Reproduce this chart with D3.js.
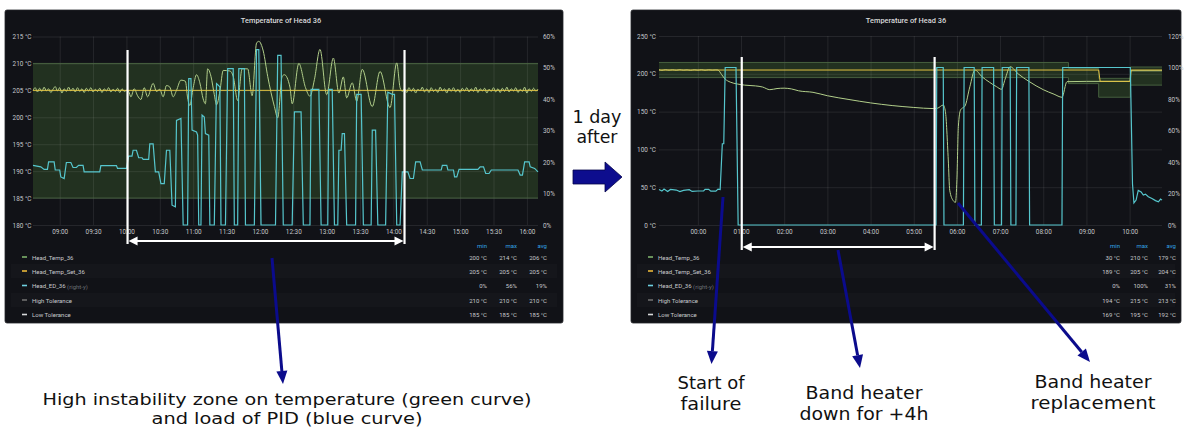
<!DOCTYPE html>
<html><head><meta charset="utf-8">
<script src="https://cdn.jsdelivr.net/npm/d3@7"></script>
<style>
html,body{margin:0;padding:0;background:#fff;}
svg{display:block;}
</style></head><body>
<svg id="c" width="1184" height="429"></svg>
<script>
// ================= DATA =================
const chartTitle = "Temperature of Head 36";
const legendNames = ["Head_Temp_36","Head_Temp_Set_36","Head_ED_36","High Tolerance","Low Tolerance"];
const legendCols = ["min","max","avg"];

// ---- left panel (before) ----
const leftTimeTicks = ["09:00","09:30","10:00","10:30","11:00","11:30","12:00","12:30","13:00","13:30","14:00","14:30","15:00","15:30","16:00"];
const leftTempTicks = [180,185,190,195,200,205,210,215];
const leftPctTicks = [0,10,20,30,40,50,60];
const leftLegendMin = ["200 °C","205 °C","0%","210 °C","185 °C"];
const leftLegendMax = ["214 °C","205 °C","56%","210 °C","185 °C"];
const leftLegendAvg = ["206 °C","205 °C","19%","210 °C","185 °C"];

const leftTemp = [
["08:36",205.0],["08:38",205.5],["08:40",204.7],["08:42",205.4],["08:44",204.8],["08:46",205.6],["08:48",204.9],["08:50",205.3],["08:52",204.6],["08:54",205.2],["08:56",205.7],["08:58",204.9],["09:00",205.5],["09:02",204.5],["09:04",205.3],["09:06",204.8],["09:08",205.6],["09:10",204.9],["09:12",205.4],["09:14",204.7],["09:16",205.5],["09:18",204.8],["09:20",205.3],["09:22",204.6],["09:24",205.4],["09:26",204.9],["09:28",205.5],["09:30",204.7],["09:32",205.2],["09:34",204.8],["09:36",205.4],["09:38",204.6],["09:40",205.3],["09:42",204.9],["09:44",205.5],["09:46",204.7],["09:48",205.2],["09:50",204.8],["09:52",205.4],["09:54",204.6],["09:56",205.3],["09:58",204.8],["10:00",205.0],
["10:02",204.8],["10:04",203.8],["10:07",205.3],["10:10",204.0],["10:13",203.3],["10:16",205.5],["10:19",203.8],["10:24",206.3],["10:27",204.8],["10:30",205.2],["10:33",203.8],["10:36",205.9],["10:39",205.6],["10:42",203.8],["10:45",205.0],["10:49",206.9],["10:53",206.7],["10:55",203.6],["10:57",202.2],["11:00",205.5],["11:03",207.9],["11:06",206.4],["11:09",203.4],["11:11",202.5],["11:13",209.0],["11:16",207.6],["11:19",204.2],["11:21",202.3],["11:24",204.8],["11:27",208.7],["11:33",208.6],["11:36",207.6],["11:40",203.1],["11:44",209.0],["11:49",209.0],["11:53",204.0],["11:57",213.8],["11:59",214.1],["12:03",212.3],["12:07",207.6],["12:13",202.0],["12:16",199.9],["12:20",207.6],["12:22",207.9],["12:27",205.6],["12:29",202.5],["12:35",210.0],["12:41",205.5],["12:45",203.9],["12:49",207.0],["12:54",212.6],["13:00",204.2],["13:06",211.0],["13:11",204.5],["13:15",207.5],["13:18",203.6],["13:23",206.4],["13:27",203.0],["13:32",208.9],["13:41",202.0],["13:48",208.5],["13:57",201.8],["14:03",210.1],["14:06",205.5],["14:08",204.8],
["14:10",205.3],["14:12",204.6],["14:14",205.5],["14:16",204.8],["14:18",205.4],["14:20",204.5],["14:22",205.2],["14:24",204.9],["14:26",205.6],["14:28",204.7],["14:30",205.3],["14:32",204.6],["14:34",205.5],["14:36",204.8],["14:38",205.2],["14:40",204.6],["14:42",205.6],["14:44",204.9],["14:46",205.3],["14:48",204.5],["14:50",205.4],["14:52",204.8],["14:54",205.5],["14:56",204.7],["14:58",205.2],["15:00",204.6],["15:02",205.4],["15:04",204.9],["15:06",205.5],["15:08",204.7],["15:10",205.3],["15:12",204.8],["15:14",205.6],["15:16",204.6],["15:18",205.3],["15:20",204.9],["15:22",205.4],["15:24",204.5],["15:26",205.2],["15:28",204.8],["15:30",205.5],["15:32",204.7],["15:34",205.3],["15:36",204.6],["15:38",205.4],["15:40",204.8],["15:42",205.6],["15:44",204.7],["15:46",205.3],["15:48",204.9],["15:50",205.5],["15:52",204.6],["15:54",205.2],["15:56",204.8],["15:58",205.6],["16:00",204.5],["16:02",205.3],["16:04",204.8],["16:06",205.4],["16:08",204.9],["16:10",205.2]
];
const leftSet = [["08:36",205],["16:10",205]];
const leftHigh = [["08:36",210],["16:10",210]];
const leftLow = [["08:36",185],["16:10",185]];
const leftED = [
["08:36",19.0],["08:43",18.5],["08:46",17.7],["08:49",17.7],["08:50",20.1],["08:55",20.1],["08:56",17.5],["09:00",17.5],["09:01",15.3],["09:04",14.8],["09:06",19.9],["09:10",19.9],["09:12",18.3],["09:15",18.3],["09:17",19.0],["09:21",19.0],["09:22",16.9],["09:36",16.9],["09:37",18.9],["09:51",18.9],["09:52",18.0],["10:00",18.0],
["10:02",21.9],["10:05",21.9],["10:06",23.8],["10:09",23.8],["10:11",21.4],["10:14",21.4],["10:15",20.9],["10:20",20.9],["10:21",25.8],["10:24",25.8],["10:26",16.9],["10:29",16.9],["10:31",13.2],["10:34",13.2],["10:36",23.8],["10:39",23.8],["10:41",6.3],["10:44",5.8],["10:45",33.3],["10:49",33.9],["10:51",0],["10:55",0],["10:56",46.6],["10:58",46.6],["10:59",30.2],["11:03",29.6],["11:04",28.6],["11:05",0],["11:07",0],["11:08",35],["11:10",34.4],["11:11",29.1],["11:14",28.6],["11:15",0],["11:19",0],["11:21",45],["11:24",44],["11:25",0],["11:29",0],["11:31",49.8],["11:36",49.8],["11:37",0],["11:40",0],["11:41",49.8],["11:46",49.8],["11:47",0],["11:55",0],["11:57",55.8],["11:59",55.8],["12:01",0],["12:14",0],["12:16",54],["12:19",54],["12:21",0],["12:29",0],["12:31",36],["12:37",36],["12:39",0],["12:45",0],["12:46",43.2],["12:53",43.2],["12:55",0],["13:01",0],["13:02",43.2],["13:05",43.2],["13:07",0],["13:10",0],["13:11",23.8],["13:13",23.8],["13:14",29.1],["13:16",29.1],["13:18",0],["13:26",0],["13:27",41.6],["13:31",41.6],["13:33",0],["13:40",0],["13:41",30.2],["13:44",30.2],["13:46",0],["13:53",0],["13:55",42.3],["13:59",41.6],["14:01",41.6],["14:03",0],["14:06",0],
["14:08",16.9],["14:13",16.9],["14:15",14.8],["14:18",14.8],["14:20",20.1],["14:24",20.1],["14:26",17.5],["14:43",17.5],["14:44",19],["14:48",19],["14:49",17.5],["14:54",17.5],["14:55",15.3],["14:57",15.3],["14:59",17.7],["15:16",17.7],["15:18",18.5],["15:21",18.5],["15:23",16.4],["15:26",16.4],["15:28",17.5],["15:52",17.5],["15:54",15.9],["15:56",15.9],["15:58",20.1],["16:02",20.1],["16:03",18.5],["16:07",18],["16:10",16.9]
];

// ---- right panel (1 day after) ----
const rightTimeTicks = ["02 00:00","02 01:00","02 02:00","02 03:00","02 04:00","02 05:00","02 06:00","02 07:00","02 08:00","02 09:00","02 10:00"];
const rightTempTicks = [0,50,100,150,200,250];
const rightPctTicks = [0,20,40,60,80,100,120];
const rightLegendMin = ["30 °C","189 °C","0%","194 °C","169 °C"];
const rightLegendMax = ["210 °C","205 °C","100%","215 °C","195 °C"];
const rightLegendAvg = ["179 °C","204 °C","31%","213 °C","192 °C"];

const rightTemp = [
["01 23:06",205.3],["01 23:10",204.6],["01 23:15",205.4],["01 23:20",204.8],["01 23:25",205.3],["01 23:30",204.7],["01 23:35",205.4],["01 23:40",204.8],["01 23:45",205.2],["01 23:50",204.6],["01 23:55",205.3],["02 00:00",204.8],["02 00:05",205.4],["02 00:10",204.7],["02 00:15",205.3],["02 00:20",204.9],["02 00:25",205.2],["02 00:28",205.0],
["02 00:33",199],["02 00:38",193],["02 00:45",189],["02 00:55",186.5],["02 01:05",185],["02 01:20",184],["02 01:30",182.5],["02 01:40",179],["02 01:50",180.5],["02 02:00",181],["02 02:10",180],["02 02:20",177.5],["02 02:40",175.5],["02 03:00",171],["02 03:30",166],["02 04:00",161.5],["02 04:30",158],["02 05:00",155.5],["02 05:27",154],["02 05:33",154.5],["02 05:41",158.7],["02 05:44",150],["02 05:48",86],["02 05:50",46],["02 05:55",32],["02 05:58",30],["02 06:00",60],["02 06:02",130],["02 06:05",152],["02 06:08",155],["02 06:11",157],["02 06:18",183],["02 06:25",205],["02 06:35",196],["02 06:45",189],["02 06:55",183],["02 07:02",179.5],["02 07:07",193],["02 07:14",209.4],["02 07:25",200],["02 07:40",190],["02 08:00",179],["02 08:15",173],["02 08:26",169],["02 08:33",189.6],["02 09:00",190],["02 10:00",190],["02 10:02",204],["02 10:45",204]
];
const rightSet = [["01 23:06",205],["02 09:17",205],["02 09:19",190],["02 10:01",190],["02 10:02",205],["02 10:45",205]];
const rightHigh = [["01 23:06",215],["02 08:35",207],["02 09:17",194],["02 10:01",209],["02 10:45",209]];
const rightLow = [["01 23:06",195],["02 08:35",187],["02 09:17",169],["02 10:01",185],["02 10:45",185]];
const rightED = [
["01 23:06",22.5],["01 23:10",21.5],["01 23:13",22.8],["01 23:18",21.3],["01 23:22",22.6],["01 23:30",22.2],["01 23:35",21.2],["01 23:40",22.0],["01 23:48",22.4],["01 23:52",21.3],["02 00:00",21.6],["02 00:08",21.6],["02 00:10",22.6],["02 00:15",22.6],["02 00:18",21.5],["02 00:25",21.5],["02 00:28",22.8],["02 00:31",22.5],["02 00:34",51.6],["02 00:36",51.6],["02 00:38",100],["02 00:53",100],["02 00:56",0],
["02 05:31",0],["02 05:32",100],["02 05:41",100],["02 05:42",0],["02 06:09",0],["02 06:10",100],["02 06:24",100],["02 06:25",0],["02 06:34",0],["02 06:35",100],["02 06:51",100],["02 06:52",0],["02 07:02",0],["02 07:03",100],["02 07:14",100],["02 07:15",0],["02 07:22",0],["02 07:23",100],["02 07:40",100],["02 07:41",0],["02 08:26",0],["02 08:27",100],["02 10:01",100],
["02 10:04",26],["02 10:06",14],["02 10:09",15.8],["02 10:12",22],["02 10:16",21],["02 10:19",19],["02 10:22",19.6],["02 10:26",17.9],["02 10:31",16.8],["02 10:36",15.5],["02 10:40",14.7],["02 10:43",16.5],["02 10:45",15.8]
];

// annotation texts
const leftNote = ["High instability zone on temperature (green curve)","and load of PID (blue curve)"];
const middleNote = ["1 day","after"];
const noteStart = ["Start of","failure"];
const noteDown = ["Band heater","down for +4h"];
const noteRepl = ["Band heater","replacement"];

// ================= DRAWING =================
const svg = d3.select("#c");
svg.append("rect").attr("width",1184).attr("height",429).attr("fill","#ffffff");
const FONT = "Roboto, 'Noto Sans', sans-serif";
const C = {bg:"#111217", band:"#223120", bandEdge:"#4b6643", grid:"rgba(255,255,255,0.085)",
  temp:"#b2cf8a", set:"#e2c443", ed:"#56c6cd", tick:"#c3c6ca", head:"#33a2e5"};
const legendColors = [ "#7eb26d", "#eab839", "#6ed0e0", "#6f6f6f", "#d8d9da"];

function drawPanel(cfg){
  const g = svg.append("g");
  g.append("rect").attr("x",cfg.px).attr("y",cfg.py).attr("width",cfg.pw).attr("height",cfg.ph)
    .attr("rx",2).attr("fill",C.bg).attr("stroke","#24262b").attr("stroke-width",0.8);
  g.append("text").attr("x",cfg.titleX).attr("y",23).attr("text-anchor","middle")
    .attr("fill","#d8d9da").attr("font-size",7.4).attr("font-weight",500).attr("font-family",FONT).text(chartTitle);

  const parse = cfg.parse;
  const x = d3.scaleTime().domain(cfg.xDom.map(parse)).range([cfg.x0,cfg.x1]);
  const yL = d3.scaleLinear().domain(cfg.yLDom).range([cfg.yB,cfg.yT]);
  const yR = d3.scaleLinear().domain(cfg.yRDom).range([cfg.yB,cfg.yT]);
  const P = arr => arr.map(d => ({t:parse(d[0]), v:d[1]}));

  // band
  const hi = P(cfg.high), lo = P(cfg.low);
  const band = hi.map((d,i)=>({t:d.t,h:d.v,l:lo[i].v}));
  g.append("path").datum(band)
    .attr("d", d3.area().curve(d3.curveStepAfter).x(d=>x(d.t)).y0(d=>yL(d.l)).y1(d=>yL(d.h)))
    .attr("fill",C.band);

  // grid + x labels
  const gx = g.append("g").attr("transform",`translate(0,${cfg.yB})`)
    .call(d3.axisBottom(x).tickValues(cfg.xTicks.map(parse)).tickSize(-(cfg.yB-cfg.yT))
      .tickPadding(4.5).tickFormat(d3.timeFormat("%H:%M")));
  gx.select(".domain").remove();
  gx.selectAll("line").attr("stroke",C.grid);
  gx.selectAll("text").attr("fill",C.tick).attr("font-size",6.4).attr("font-family",FONT);

  const gy = g.append("g").attr("transform",`translate(${cfg.x0},0)`)
    .call(d3.axisLeft(yL).tickValues(cfg.yLTicks).tickSize(-(cfg.x1-cfg.x0)).tickPadding(cfg.yLPad)
      .tickFormat(d=>d+" °C"));
  gy.select(".domain").remove();
  gy.selectAll("line").attr("stroke",C.grid);
  gy.selectAll("text").attr("fill",C.tick).attr("font-size",6.4).attr("font-family",FONT);

  const gr = g.append("g").attr("transform",`translate(${cfg.x1},0)`)
    .call(d3.axisRight(yR).tickValues(cfg.yRTicks).tickSize(0).tickPadding(cfg.yRPad).tickFormat(d=>d+"%"));
  gr.select(".domain").remove();
  gr.selectAll("text").attr("fill",C.tick).attr("font-size",6.4).attr("font-family",FONT);

  // band edges
  const stepLine = d3.line().curve(d3.curveStepAfter).x(d=>x(d.t)).y(d=>yL(d.v));
  g.append("path").datum(hi).attr("d",stepLine).attr("fill","none").attr("stroke",C.bandEdge).attr("stroke-width",0.9);
  g.append("path").datum(lo).attr("d",stepLine).attr("fill","none").attr("stroke",C.bandEdge).attr("stroke-width",0.9);

  // series
  g.append("path").datum(P(cfg.temp))
    .attr("d", d3.line().curve(d3.curveMonotoneX).x(d=>x(d.t)).y(d=>yL(d.v)))
    .attr("fill","none").attr("stroke",C.temp).attr("stroke-width",1);
  g.append("path").datum(P(cfg.set))
    .attr("d", d3.line().x(d=>x(d.t)).y(d=>yL(d.v)))
    .attr("fill","none").attr("stroke",C.set).attr("stroke-width",1);
  g.append("path").datum(P(cfg.ed))
    .attr("d", d3.line().x(d=>x(d.t)).y(d=>yR(d.v)))
    .attr("fill","none").attr("stroke",C.ed).attr("stroke-width",1.2);

  // legend
  const rowsY = [257,271,285.5,300,314.5];
  rowsY.forEach((ry,i)=>{
    if(i%2===1) g.append("rect").attr("x",cfg.px+6).attr("y",ry-7).attr("width",cfg.pw-12).attr("height",14).attr("fill","rgba(255,255,255,0.018)");
  });
  legendCols.forEach((c,j)=>{
    g.append("text").attr("x",cfg.colX[j]).attr("y",245).attr("text-anchor","end").attr("dominant-baseline","central")
      .attr("fill",C.head).attr("font-size",6).attr("font-family",FONT).text(c);
  });
  legendNames.forEach((n,i)=>{
    const ry = rowsY[i];
    g.append("line").attr("x1",cfg.px+17).attr("x2",cfg.px+22).attr("y1",ry).attr("y2",ry)
      .attr("stroke",legendColors[i]).attr("stroke-width",1.6);
    const t = g.append("text").attr("x",cfg.px+27).attr("y",ry).attr("dominant-baseline","central")
      .attr("fill","#c7c9cc").attr("font-size",6).attr("font-family",FONT).text(n);
    if(i===2) t.append("tspan").attr("fill","#6b6e73").text(" (right-y)");
    [cfg.lmin,cfg.lmax,cfg.lavg].forEach((arr,j)=>{
      g.append("text").attr("x",cfg.colX[j]).attr("y",ry).attr("text-anchor","end").attr("dominant-baseline","central")
        .attr("fill","#c7c9cc").attr("font-size",6).attr("font-family",FONT).text(arr[i]);
    });
  });
  return {x,yL,yR};
}

const L = drawPanel({px:5,py:10,pw:558,ph:313,titleX:281,x0:33,x1:538,yT:36.5,yB:225,
  parse:d3.timeParse("%H:%M"), xDom:["08:36","16:10"], yLDom:[180,215], yRDom:[0,60],
  xTicks:leftTimeTicks, yLTicks:leftTempTicks, yRTicks:leftPctTicks, yLPad:1.5, yRPad:5,
  temp:leftTemp, set:leftSet, high:leftHigh, low:leftLow, ed:leftED,
  lmin:leftLegendMin, lmax:leftLegendMax, lavg:leftLegendAvg, colX:[487,517,547]});

const R = drawPanel({px:631,py:10,pw:550,ph:313,titleX:906,x0:659,x1:1162,yT:36,yB:225,
  parse:d3.timeParse("%d %H:%M"), xDom:["01 23:06","02 10:45"], yLDom:[0,250], yRDom:[0,120],
  xTicks:rightTimeTicks, yLTicks:rightTempTicks, yRTicks:rightPctTicks, yLPad:3, yRPad:6,
  temp:rightTemp, set:rightSet, high:rightHigh, low:rightLow, ed:rightED,
  lmin:rightLegendMin, lmax:rightLegendMax, lavg:rightLegendAvg, colX:[1120,1148,1176]});

// ---------- annotations ----------
const ann = svg.append("g");
function whiteBracket(xa, xb, yTop, yArrow){
  [xa,xb].forEach(xx=>ann.append("line").attr("x1",xx).attr("x2",xx).attr("y1",yTop).attr("y2",yArrow+3)
    .attr("stroke","#ffffff").attr("stroke-width",2.2));
  ann.append("line").attr("x1",xa+6).attr("x2",xb-6).attr("y1",yArrow).attr("y2",yArrow)
    .attr("stroke","#ffffff").attr("stroke-width",2);
  ann.append("path").attr("d",`M${xa+1},${yArrow} L${xa+10},${yArrow-4.5} L${xa+10},${yArrow+4.5} Z`).attr("fill","#fff");
  ann.append("path").attr("d",`M${xb-1},${yArrow} L${xb-10},${yArrow-4.5} L${xb-10},${yArrow+4.5} Z`).attr("fill","#fff");
}
const pL = d3.timeParse("%H:%M"), pR = d3.timeParse("%d %H:%M");
whiteBracket(L.x(pL("10:01")), L.x(pL("14:10")), 50, 241);
whiteBracket(R.x(pR("02 01:01")), R.x(pR("02 05:29")), 57, 247);

function navyArrow(x1,y1,x2,y2){
  const a = Math.atan2(y2-y1,x2-x1), Lh=13, W=5.5;
  const bx = x2-Lh*Math.cos(a), by = y2-Lh*Math.sin(a);
  ann.append("line").attr("x1",x1).attr("y1",y1).attr("x2",bx).attr("y2",by)
    .attr("stroke","#0b0b8c").attr("stroke-width",3);
  ann.append("path").attr("d",`M${x2},${y2} L${bx+W*Math.sin(a)},${by-W*Math.cos(a)} L${bx-W*Math.sin(a)},${by+W*Math.cos(a)} Z`)
    .attr("fill","#0b0b8c");
}
navyArrow(272,258,283,384);
navyArrow(723,197,711.5,364);
navyArrow(838,250,860,368);
navyArrow(958,203,1090,362);

// middle block arrow
ann.append("path").attr("d","M573,170 L605,170 L605,162 L622,177 L605,192 L605,184 L573,184 Z")
  .attr("fill","#0d0d8e").attr("stroke","#05054a").attr("stroke-width",0.8);

const NF = "'DejaVu Sans', 'Liberation Sans', sans-serif";
function note(lines, cx, ys, widths, size){
  lines.forEach((s,i)=>{
    ann.append("text").attr("x",cx).attr("y",ys[i]).attr("text-anchor","middle")
      .attr("font-family",NF).attr("font-size",size).attr("fill","#111")
      .attr("textLength",widths[i]).attr("lengthAdjust","spacingAndGlyphs").text(s);
  });
}
note(leftNote, 287, [405,424], [489,271], 16);
note(middleNote, 597, [123,143], [49,41], 17);
note(noteStart, 711, [389,410], [67,61], 18);
note(noteDown, 864, [399,420], [117,129], 18);
note(noteRepl, 1093, [388,409], [117,125], 18);
</script>
</body></html>
